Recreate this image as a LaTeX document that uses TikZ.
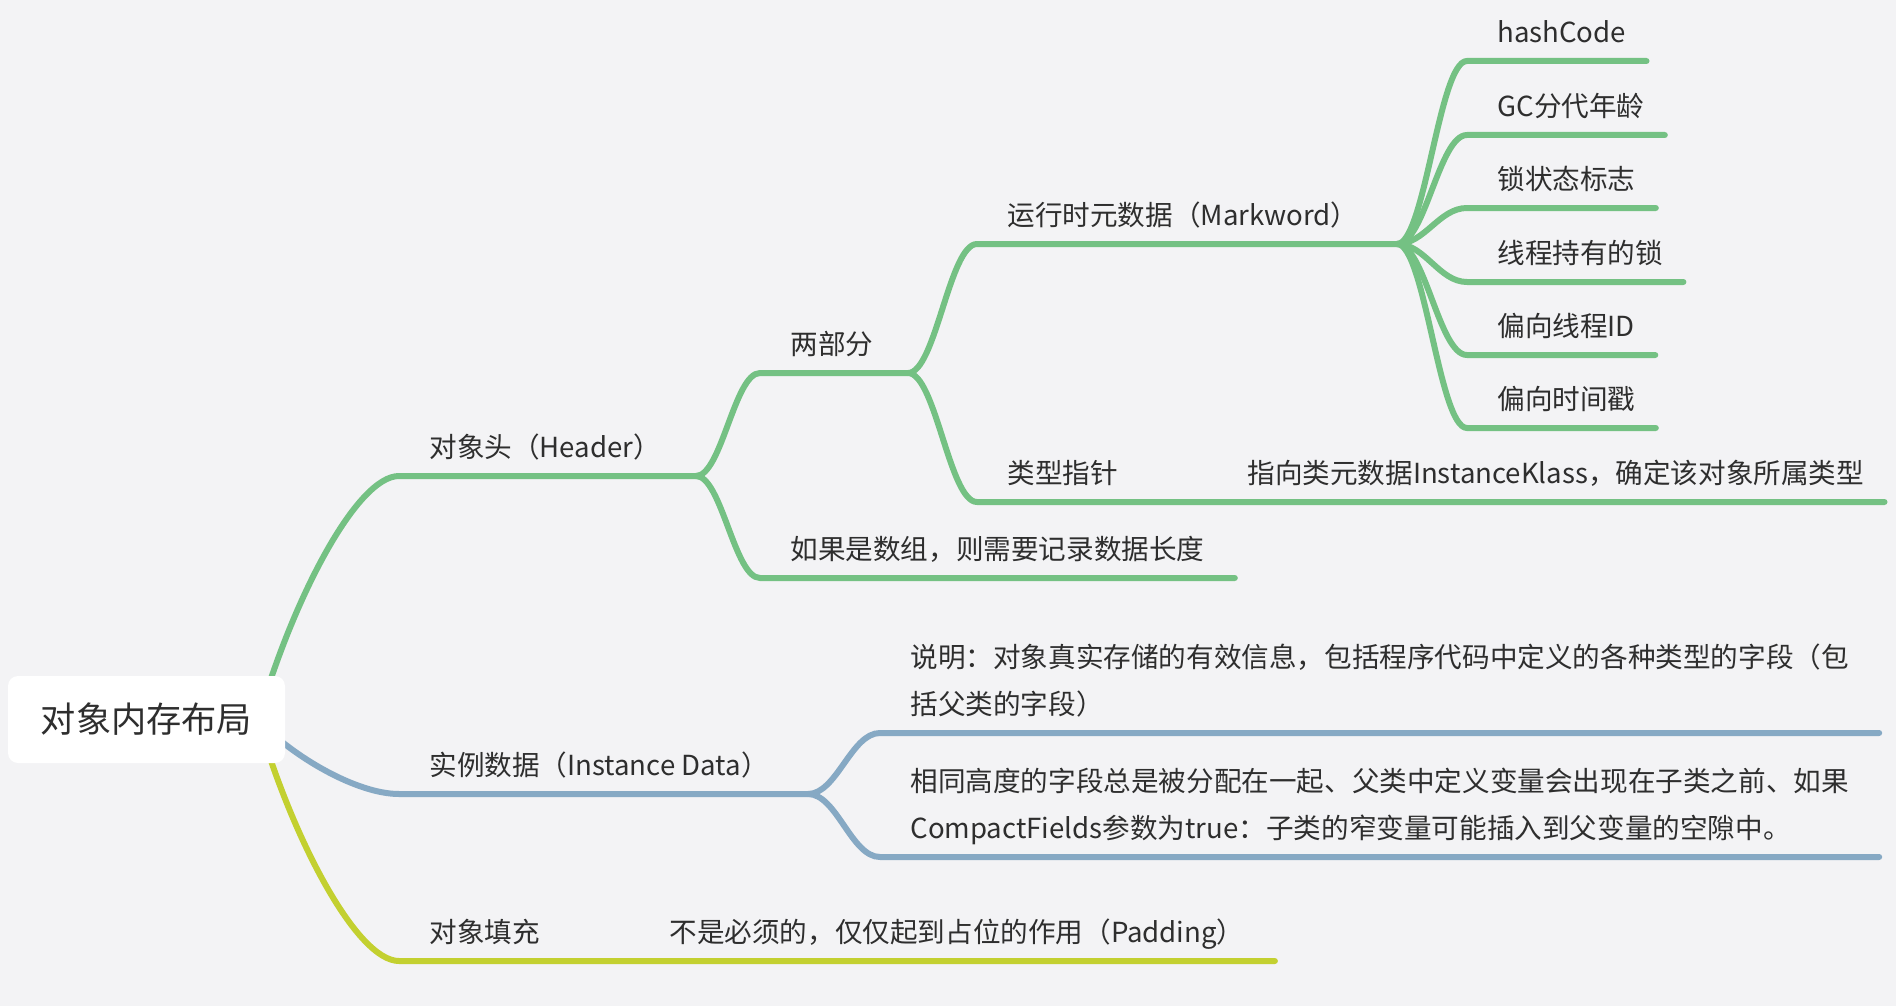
\documentclass[tikz,border=0pt]{standalone}
\usepackage{fontspec}
\newfontfamily\cjk{Noto Sans CJK SC}
\usetikzlibrary{calc}
\definecolor{PaperGray}{HTML}{F3F3F5}
\definecolor{InkGray}{HTML}{2E2E2E}
\definecolor{HeadGreen}{HTML}{74C183}
\definecolor{DataBlue}{HTML}{86A9C4}
\definecolor{PadLime}{HTML}{C3D030}

\tikzset{
  topic/.style={anchor=south west, inner xsep=15pt, inner ysep=0pt, text depth=9pt,
    text=InkGray, align=left, font=\cjk\fontsize{13.8}{23.5}\selectfont},
  rootbox/.style={fill=white, rounded corners=5pt, inner sep=0pt, minimum width=138.5pt,
    minimum height=43.5pt, text=InkGray, font=\cjk\fontsize{17.6}{20}\selectfont},
  twig/.style={line width=3pt, line cap=round, draw=#1},
  branch/.style={to path={.. controls ($(\tikztostart)!.4!(\tikztostart-|\tikztotarget)$)
    and ($(\tikztotarget)!.4!(\tikztotarget-|\tikztostart)$) .. (\tikztotarget)}},
}

\begin{document}
\begin{tikzpicture}[x=0.5pt, y=-0.5pt]
  \useasboundingbox (0,0) rectangle (1896,1006);
  \fill[PaperGray] (0,0) rectangle (1896,1006);

  \node[topic] (header) at (399,476) {对象头（Header）};
  \node[topic] (twoParts) at (760,373) {两部分};
  \node[topic] (arrayLen) at (760,578) {如果是数组，则需要记录数据长度};
  \node[topic] (mark) at (977,244) {运行时元数据（Markword）};
  \node[topic] (ptr) at (977,502) {类型指针};
  \node[topic] (klass) at (1217,502) {指向类元数据InstanceKlass，确定该对象所属类型};
  \node[topic] (hash) at (1467,61) {hashCode};
  \node[topic] (gcAge) at (1467,135) {GC分代年龄};
  \node[topic] (lockFlag) at (1467,208) {锁状态标志};
  \node[topic] (lockOwner) at (1467,282) {线程持有的锁};
  \node[topic] (biasId) at (1467,355) {偏向线程ID};
  \node[topic] (biasTime) at (1467,428) {偏向时间戳};
  \node[topic] (inst) at (399,794) {实例数据（Instance Data）};
  \node[topic] (fieldInfo) at (880,733) {说明：对象真实存储的有效信息，包括程序代码中定义的各种类型的字段（包\\括父类的字段）};
  \node[topic] (fieldOrder) at (880,857) {相同高度的字段总是被分配在一起、父类中定义变量会出现在子类之前、如果\\CompactFields参数为true：子类的窄变量可能插入到父变量的空隙中。};
  \node[topic] (pad) at (399,961) {对象填充};
  \node[topic] (padNote) at (639,961) {不是必须的，仅仅起到占位的作用（Padding）};

  \coordinate (rootFork) at (258,720);
  \coordinate (headerFork) at (696,476);
  \coordinate (twoFork) at (908,373);
  \coordinate (markFork) at (1397,244);
  \coordinate (instFork) at (808,794);

  \draw[twig=HeadGreen] (rootFork) .. controls +(35,-122) and +(-42,0) .. (header.south west) -- (headerFork);
  \draw[twig=HeadGreen] (headerFork) to[branch] (twoParts.south west) -- (twoFork);
  \draw[twig=HeadGreen] (headerFork) to[branch] (arrayLen.south west) -- (arrayLen.south east);
  \draw[twig=HeadGreen] (twoFork) to[branch] (mark.south west) -- (markFork);
  \draw[twig=HeadGreen] (twoFork) to[branch] (ptr.south west) -- ([xshift=-5pt]klass.south east);
  \foreach \leaf in {hash,gcAge,lockFlag,lockOwner,biasId,biasTime}
    \draw[twig=HeadGreen] (markFork) to[branch] (\leaf.south west) -- ([xshift=-5pt]\leaf.south east);

  \draw[twig=DataBlue] (rootFork) .. controls +(35,37) and +(-42,0) .. (inst.south west) -- (instFork);
  \draw[twig=DataBlue] (instFork) to[branch] (fieldInfo.south west) -- (fieldInfo.south east);
  \draw[twig=DataBlue] (instFork) to[branch] (fieldOrder.south west) -- (fieldOrder.south east);

  \draw[twig=PadLime] (rootFork) .. controls +(35,120) and +(-42,0) .. (pad.south west) -- (padNote.south east);

  \node[rootbox] (root) at (146.5,719.5) {对象内存布局};
\end{tikzpicture}
\end{document}
